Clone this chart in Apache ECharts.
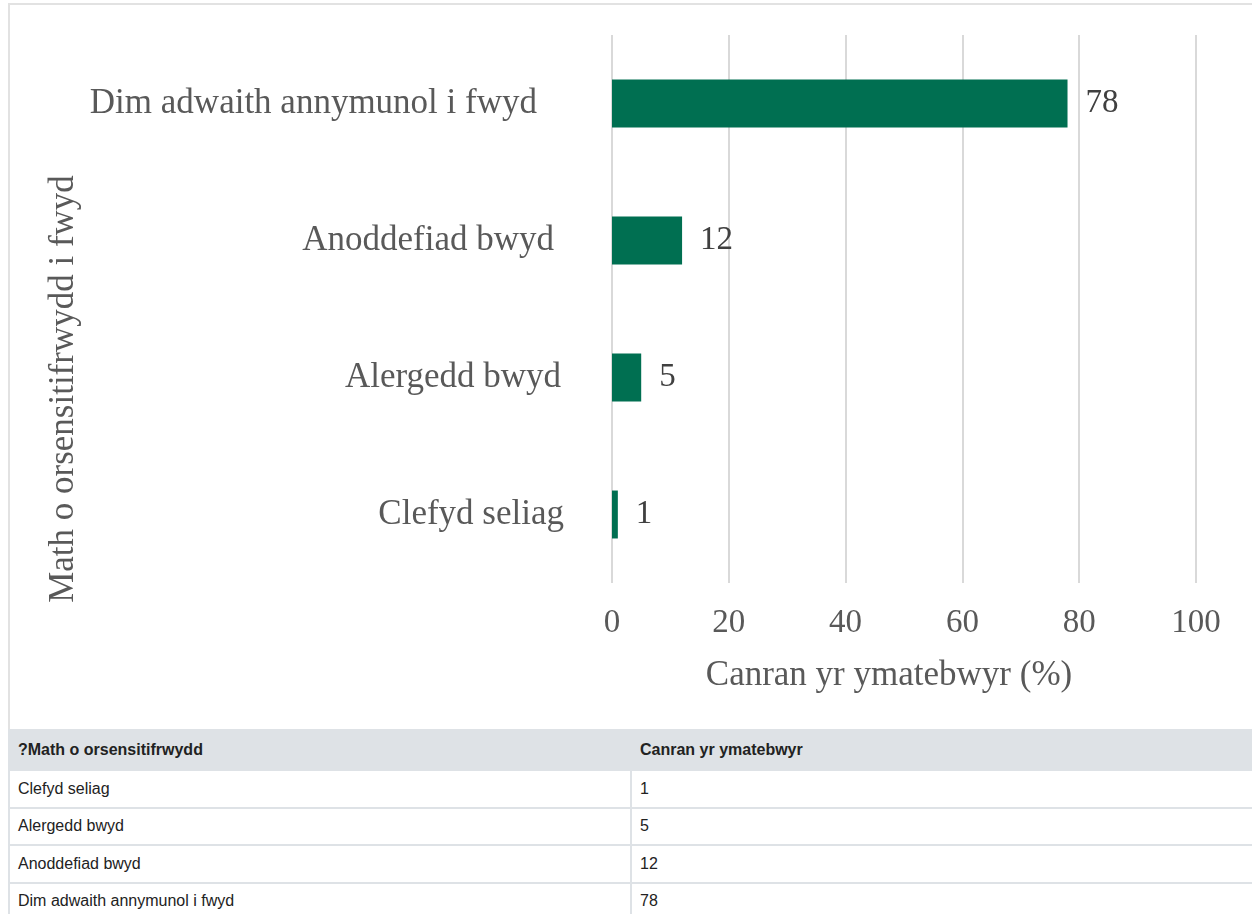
<!DOCTYPE html>
<html>
<head>
<meta charset="utf-8">
<script src="https://cdn.jsdelivr.net/npm/echarts@6/dist/echarts.min.js"></script>
<style>
  html, body { margin: 0; padding: 0; background: #fff; overflow: hidden; }
  body { width: 1252px; height: 914px; position: relative; }
  #box {
    position: absolute; left: 8px; top: 3px; width: 1262px; height: 724px;
    border-left: 2px solid #e2e2e2; border-top: 2px solid #e2e2e2;
  }
  #chart { position: absolute; left: 0; top: 0; width: 1262px; height: 724px; }
  #tbl {
    position: absolute; left: 8px; top: 729px; width: 1262px;
    border-collapse: collapse; font-family: "Liberation Sans", Arial, sans-serif;
    font-size: 16px; color: #222;
  }
  #tbl th, #tbl td {
    border: 2px solid #dee2e6; text-align: left; padding: 0 0 0 8px;
  }
  #tbl th { background: #dee2e6; font-weight: bold; height: 38px; }
  #tbl td { height: 35.5px; }
  #tbl th:first-child, #tbl td:first-child { width: 612px; }
</style>
</head>
<body>
<div id="box"><div id="chart"></div></div>
<table id="tbl"><thead><tr id="head"></tr></thead><tbody id="rows"></tbody></table>
<script>
// Food sensitivity type vs share of respondents
const categories = ['Clefyd seliag', 'Alergedd bwyd', 'Anoddefiad bwyd', 'Dim adwaith annymunol i fwyd'];
const percentages = [1, 5, 12, 78];
const tableHeaders = ['?Math o orsensitifrwydd', 'Canran yr ymatebwyr'];
const xAxisTitle = 'Canran yr ymatebwyr (%)';
const yAxisTitle = 'Math o orsensitifrwydd i fwyd';

const serif = '"Liberation Serif", "Times New Roman", serif';
const grey = '#595959';

// per-row right inset of the category labels
const labelInset = [0, 3, 10, 27];
const richStyles = {};
labelInset.forEach((p, i) => {
  richStyles['c' + i] = { fontFamily: serif, fontSize: 35, color: grey, padding: [0, p, 0, 0] };
});

const chart = echarts.init(document.getElementById('chart'), null, { renderer: 'canvas' });
chart.setOption({
  animation: false,
  grid: { left: 602, top: 30, width: 584, height: 548 },
  xAxis: {
    type: 'value', min: 0, max: 100, interval: 20,
    name: xAxisTitle, nameLocation: 'middle', nameGap: 75,
    nameTextStyle: { fontFamily: serif, fontSize: 35, color: grey, padding: [0, 30, 0, 0] },
    axisLine: { show: false }, axisTick: { show: false },
    axisLabel: { fontFamily: serif, fontSize: 33, color: grey, margin: 24 },
    splitLine: { lineStyle: { color: '#d9d9d9', width: 2 } }
  },
  yAxis: {
    type: 'category', data: categories,
    name: yAxisTitle, nameLocation: 'middle', nameGap: 531,
    nameTextStyle: { fontFamily: serif, fontSize: 35, color: grey, padding: [0, 160, 0, 0] },
    axisLine: { show: false }, axisTick: { show: false },
    axisLabel: {
      margin: 48,
      formatter: (v, i) => '{c' + i + '|' + v + '}',
      rich: richStyles
    }
  },
  series: [{
    type: 'bar', data: percentages, barCategoryGap: '65%',
    itemStyle: { color: '#006f51' },
    label: { show: true, position: 'right', distance: 18, fontFamily: serif, fontSize: 33, color: '#404040' }
  }]
});

// Data table below the chart
const head = document.getElementById('head');
tableHeaders.forEach(h => { const th = document.createElement('th'); th.textContent = h; head.appendChild(th); });
const rows = document.getElementById('rows');
categories.forEach((c, i) => {
  const tr = document.createElement('tr');
  [c, String(percentages[i])].forEach(v => { const td = document.createElement('td'); td.textContent = v; tr.appendChild(td); });
  rows.appendChild(tr);
});
</script>
</body>
</html>
